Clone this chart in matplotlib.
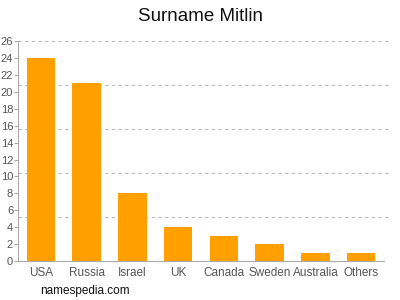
import matplotlib
matplotlib.use("Agg")
import matplotlib.pyplot as plt
import numpy as np

plt.rcParams["font.family"] = ["Liberation Sans", "DejaVu Sans"]

countries = ["USA", "Russia", "Israel", "UK", "Canada", "Sweden", "Australia", "Others"]
counts = [24, 21, 8, 4, 3, 2, 1, 1]
yticks = list(range(0, 27, 2))

fig = plt.figure(figsize=(4, 3), dpi=100)
ax = fig.add_axes([0.045, 0.13, 0.915, 0.733])
x = np.arange(len(countries))
ax.bar(x, counts, width=0.62, color="#FFA000", zorder=3)
ax.set_xlim(-0.5, len(countries) - 0.5)
ax.set_ylim(0, 26)
ax.set_yticks(yticks)
ax.set_yticklabels([str(v) for v in yticks], fontsize=8, color="#555555")
ax.set_xticks(x)
ax.set_xticklabels(countries, fontsize=8.5, color="#555555")
for g in np.linspace(0, 26, 6)[1:]:
    ax.axhline(g, color="#bbbbbb", linestyle=(0, (3, 3)), linewidth=0.8, zorder=1, xmax=1.01, clip_on=False)
for s in ["top", "right"]:
    ax.spines[s].set_visible(False)
ax.spines["left"].set_color("#aaaaaa")
ax.spines["bottom"].set_color("#aaaaaa")
ax.tick_params(axis="y", length=3, color="#aaaaaa", pad=0.5)
ax.tick_params(axis="x", length=0, pad=4)
fig.text(0.5, 0.945, "Surname Mitlin", ha="center", va="center", fontsize=13.5, color="#111111")
fig.text(0.1, 0.03, "namespedia.com", ha="left", va="center", fontsize=8.5, color="#111111")
fig.savefig("out.png", dpi=100)
